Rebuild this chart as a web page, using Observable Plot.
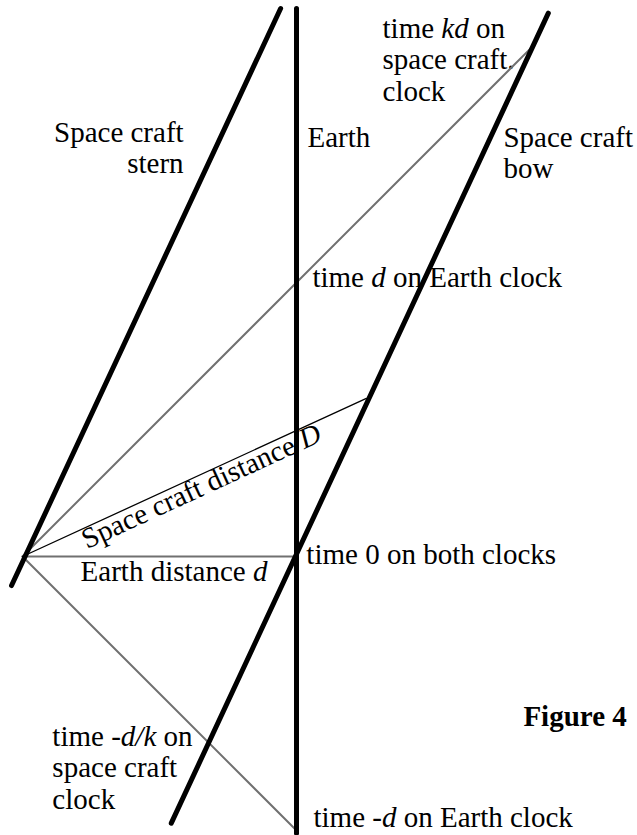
<!DOCTYPE html>
<html>
<head>
<meta charset="utf-8">
<script src="https://cdn.jsdelivr.net/npm/d3@7"></script>
<script src="https://cdn.jsdelivr.net/npm/@observablehq/plot@0.6"></script>
<style>
  html, body { margin: 0; padding: 0; background: #fff; overflow: hidden; }
  #chart svg { display: block; }
</style>
</head>
<body>
<div id="chart"></div>
<script>
// Spacetime diagram: x = space (Earth distance d = 1), t = time (d = 1)
const earthWorldline = [{x: 0, t: -1.01}, {x: 0, t: 2.0}];
const sternWorldline = [{x: -1.04, t: -0.106}, {x: -0.058, t: 2.0}];
const bowWorldline   = [{x: -0.457, t: -0.973}, {x: 0.919, t: 1.983}];
const lightRays      = [{x: 0.86, t: 1.86}, {x: -1, t: 0}, {x: 0, t: -1.0}];
const earthDistance  = [{x: -1, t: 0}, {x: 0, t: 0}];
const craftDistance  = [{x: -1, t: 0}, {x: 0.255, t: 0.577}];

// Labels (anchor = baseline of the last line)
const labelsStart = [
  {text: "Earth", x: 0.040, t: 1.493},
  {text: "time *kd* on\nspace craft.\nclock", x: 0.314, t: 1.664},
  {text: "Space craft\nbow", x: 0.755, t: 1.380},
  {text: "time *d* on Earth clock", x: 0.058, t: 0.985},
  {text: "time 0 on both clocks", x: 0.036, t: -0.026},
  {text: "Earth distance *d*", x: -0.788, t: -0.088},
  {text: "time -*d/k* on\nspace craft\nclock", x: -0.891, t: -0.920},
  {text: "time -*d* on Earth clock", x: 0.062, t: -0.989}
];
const labelsEnd = [
  {text: "Space craft\nstern", x: -0.412, t: 1.398}
];
const figureLabel = [{text: "Figure 4", x: 0.828, t: -0.617}];
const rotatedLabel = [{text: "Space craft distance *D*", x: -0.796, t: 0.095}];
const rotatedAngle = -24.7;

const gray = "#707070";
const fontSize = 29;
const lh = 1.086;
const serif = "Liberation Serif";

const chart = Plot.plot({
  width: 637,
  height: 835,
  margin: 0,
  x: {domain: [-1.0803, 1.2445], axis: null},
  y: {domain: [-1.0182, 2.0292], axis: null},
  style: {fontFamily: serif, fontSize: fontSize + "px", background: "white", color: "black"},
  marks: [
    Plot.text(labelsStart, {x: "x", y: "t", text: "text", textAnchor: "start", lineAnchor: "bottom", lineHeight: lh, fill: "black", fontSize, fontFamily: serif}),
    Plot.text(labelsEnd, {x: "x", y: "t", text: "text", textAnchor: "end", lineAnchor: "bottom", lineHeight: lh, fill: "black", fontSize, fontFamily: serif}),
    Plot.text(figureLabel, {x: "x", y: "t", text: "text", textAnchor: "start", lineAnchor: "bottom", fontWeight: "bold", fill: "black", fontSize, fontFamily: serif}),
    Plot.text(rotatedLabel, {x: "x", y: "t", text: "text", textAnchor: "start", lineAnchor: "top", rotate: rotatedAngle, fill: "black", fontSize, fontFamily: serif}),
    Plot.line(lightRays, {x: "x", y: "t", stroke: gray, strokeWidth: 2}),
    Plot.line(earthDistance, {x: "x", y: "t", stroke: gray, strokeWidth: 2}),
    Plot.line(craftDistance, {x: "x", y: "t", stroke: "black", strokeWidth: 1.3}),
    Plot.line(earthWorldline, {x: "x", y: "t", stroke: "black", strokeWidth: 5}),
    Plot.line(sternWorldline, {x: "x", y: "t", stroke: "black", strokeWidth: 5}),
    Plot.line(bowWorldline, {x: "x", y: "t", stroke: "black", strokeWidth: 5})
  ]
});

// turn *...* segments into italic tspans
chart.querySelectorAll("text, tspan").forEach(el => {
  if (el.children.length > 0) return;
  const s = el.textContent;
  if (!s.includes("*")) return;
  el.textContent = "";
  s.split(/(\*[^*]+\*)/).forEach(part => {
    if (!part) return;
    if (part.startsWith("*") && part.endsWith("*")) {
      const ts = document.createElementNS("http://www.w3.org/2000/svg", "tspan");
      ts.setAttribute("font-style", "italic");
      ts.textContent = part.slice(1, -1);
      el.appendChild(ts);
    } else {
      el.appendChild(document.createTextNode(part));
    }
  });
});

document.getElementById("chart").appendChild(chart);
</script>
</body>
</html>
